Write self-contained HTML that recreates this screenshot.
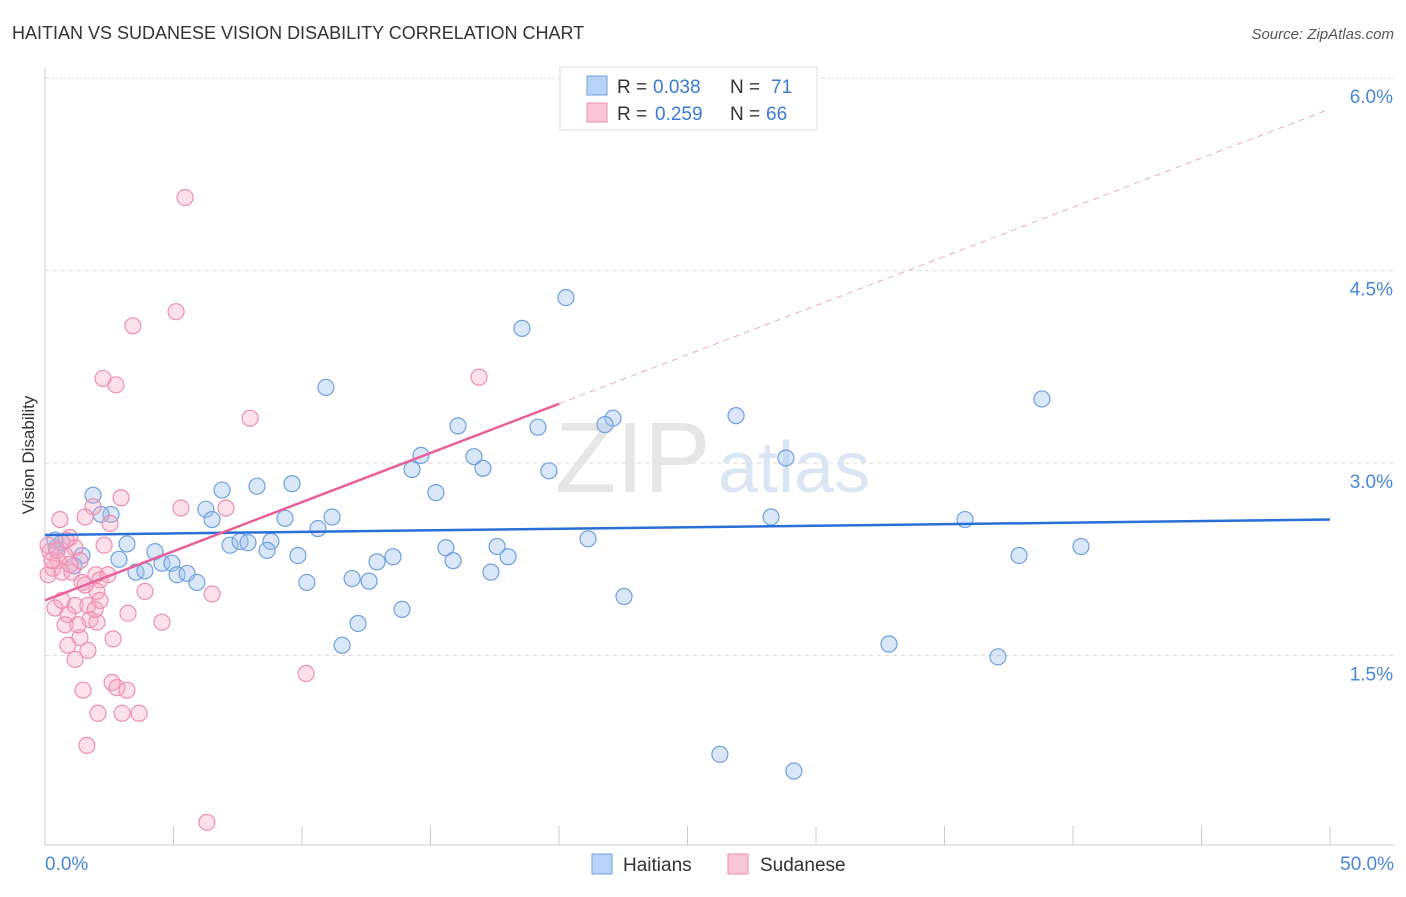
<!DOCTYPE html>
<html><head><meta charset="utf-8"><style>
body{margin:0;background:#fff;font-family:"Liberation Sans",sans-serif;}
svg text{font-family:"Liberation Sans",sans-serif;}
</style></head><body>
<svg id="chart" width="1406" height="892">
<text x="12" y="39" font-size="18" fill="#333">HAITIAN VS SUDANESE VISION DISABILITY CORRELATION CHART</text>
<text x="1394" y="39" font-size="15" fill="#555" font-style="italic" text-anchor="end">Source: ZipAtlas.com</text>
<text transform="translate(34,455) rotate(-90)" font-size="17" fill="#333" text-anchor="middle">Vision Disability</text>
<g id="grid"></g>
<text x="555" y="492" font-size="100" fill="#e6e6e6" font-family="Liberation Serif">ZIP</text>
<text x="718" y="492" font-size="72" fill="#dbe6f5">atlas</text>
<g id="points"></g>
<g id="lines"></g>
<g>
<rect x="560" y="67" width="257" height="63" fill="#fff" stroke="#ddd"/>
<rect x="587" y="76" width="20" height="19" fill="#b8d3f5" stroke="#6fa0e0"/>
<text x="617" y="93" font-size="19" fill="#333">R =</text>
<text x="653" y="93" font-size="19" fill="#3a7bd5">0.038</text>
<text x="730" y="93" font-size="19" fill="#333">N =</text>
<text x="771" y="93" font-size="19" fill="#3a7bd5">71</text>
<rect x="587" y="103" width="20" height="19" fill="#f8c6d6" stroke="#ee8fb0"/>
<text x="617" y="120" font-size="19" fill="#333">R =</text>
<text x="655" y="120" font-size="19" fill="#3a7bd5">0.259</text>
<text x="730" y="120" font-size="19" fill="#333">N =</text>
<text x="766" y="120" font-size="19" fill="#3a7bd5">66</text>
</g>
<g>
<rect x="592" y="854" width="20" height="20" fill="#b8d3f5" stroke="#6fa0e0"/>
<text x="623" y="871" font-size="19" fill="#333">Haitians</text>
<rect x="728" y="854" width="20" height="20" fill="#f8c6d6" stroke="#ee8fb0"/>
<text x="760" y="871" font-size="19" fill="#333">Sudanese</text>
</g>
<text x="45" y="870" font-size="19" fill="#4a86d8">0.0%</text>
<text x="1394" y="870" font-size="19" fill="#4a86d8" text-anchor="end">50.0%</text>
</svg>
<script>
const yTicks=[1.5,3.0,4.5,6.0];
const yTickLabels=["1.5%","3.0%","4.5%","6.0%"];
const xTicks=[0,5,10,15,20,25,30,35,40,45,50];
const haitiansX=[20.27,18.56,10.93,38.79,26.89,22.10,21.79,16.07,19.18,14.63,16.69,28.83,14.28,17.04,19.61,6.89,8.25,9.61,15.21,1.87,6.26,2.57,2.18,6.50,9.34,11.17,28.25,35.80,10.62,21.13,3.19,7.20,7.59,7.90,8.79,17.59,15.60,40.31,0.43,0.66,1.44,4.28,8.64,37.90,2.88,9.84,13.54,18.02,15.88,12.92,4.55,4.94,1.13,3.54,3.89,5.14,5.53,17.35,11.95,12.61,5.91,10.19,22.53,13.89,12.18,11.56,32.84,37.08,26.26,29.14,0.39];
const haitiansY=[4.29,4.05,3.59,3.50,3.37,3.35,3.30,3.29,3.28,3.06,3.05,3.04,2.95,2.96,2.94,2.79,2.82,2.84,2.77,2.75,2.64,2.60,2.60,2.56,2.57,2.58,2.58,2.56,2.49,2.41,2.37,2.36,2.39,2.38,2.39,2.35,2.34,2.35,2.34,2.38,2.28,2.31,2.32,2.28,2.25,2.28,2.27,2.27,2.24,2.23,2.22,2.22,2.20,2.15,2.16,2.13,2.14,2.15,2.10,2.08,2.07,2.07,1.96,1.86,1.75,1.58,1.59,1.49,0.73,0.60,2.40];
const sudaneseX=[5.45,5.10,3.42,2.26,2.76,16.89,7.98,2.96,5.29,7.04,1.87,2.53,1.56,0.58,0.97,2.30,1.17,0.19,0.78,0.51,1.36,0.31,0.66,0.12,1.05,1.98,2.14,1.44,3.89,6.50,2.02,0.39,1.17,1.67,0.89,0.78,1.75,2.02,3.23,4.55,1.36,2.65,0.89,1.67,1.17,10.16,1.48,2.61,2.80,3.19,2.06,3.00,3.66,1.63,6.30,0.12,0.27,0.47,0.97,1.95,0.66,1.56,2.14,1.28,2.45,0.82];
const sudaneseY=[5.07,4.18,4.07,3.66,3.61,3.67,3.35,2.73,2.65,2.65,2.66,2.53,2.58,2.56,2.42,2.36,2.34,2.31,2.28,2.24,2.24,2.18,2.15,2.13,2.15,2.13,2.09,2.07,2.00,1.98,2.00,1.87,1.89,1.89,1.82,1.74,1.78,1.76,1.83,1.76,1.64,1.63,1.58,1.54,1.47,1.36,1.23,1.29,1.25,1.23,1.05,1.05,1.05,0.80,0.20,2.36,2.24,2.32,2.21,1.86,1.93,2.05,1.93,1.74,2.13,2.40];
const haitiansTrend=[2.44,2.56];
const sudaneseTrend=[1.93,0.0766];

const NS="http://www.w3.org/2000/svg";
const X=v=>45+v*25.7;
const Y=v=>848-v*128.3;
function mk(tag,attrs,parent){const e=document.createElementNS(NS,tag);for(const k in attrs)e.setAttribute(k,attrs[k]);parent.appendChild(e);return e;}
const grid=document.getElementById('grid');
yTicks.forEach((t,i)=>{
  const l=mk('line',{x1:45,x2:1394,y1:Y(t),y2:Y(t),stroke:'#ddd','stroke-dasharray':'4,4'},grid);
  
  
  const tx=mk('text',{x:1393,y:Y(t)+25,'font-size':19,fill:'#4a86d8','text-anchor':'end'},grid);
  tx.textContent=yTickLabels[i];
  
  
});
const ax=mk('line',{x1:45,x2:1394,y1:845,y2:845,stroke:'#ccc'},grid);


const ay=mk('line',{x1:45,x2:45,y1:68,y2:845,stroke:'#ccc'},grid);


xTicks.forEach(t=>{
  const l=mk('line',{x1:X(t),x2:X(t),y1:826,y2:845,stroke:'#ccc'},grid);
  
  
});
const pts=document.getElementById('points');
haitiansX.forEach((v,i)=>{
  const c=mk('circle',{cx:X(v),cy:Y(haitiansY[i]),r:8,fill:'rgba(160,196,240,0.4)',stroke:'#6fa0e0','stroke-width':1.2},pts);
  
  
});
sudaneseX.forEach((v,i)=>{
  const c=mk('circle',{cx:X(v),cy:Y(sudaneseY[i]),r:8,fill:'rgba(245,170,195,0.35)',stroke:'#ee8fb0','stroke-width':1.2},pts);
  
  
});
const ln=document.getElementById('lines');
const b=mk('line',{x1:X(0),y1:Y(haitiansTrend[0]),x2:X(50),y2:Y(haitiansTrend[1]),stroke:'#2a6fd6','stroke-width':2.5},ln);


const ps=x=>sudaneseTrend[0]+sudaneseTrend[1]*x;
const p1=mk('line',{x1:X(0),y1:Y(ps(0)),x2:X(20),y2:Y(ps(20)),stroke:'#e8609a','stroke-width':2.5},ln);


const p2=mk('line',{x1:X(20),y1:Y(ps(20)),x2:X(50),y2:Y(ps(50)),stroke:'#eeaac4','stroke-width':1,'stroke-dasharray':'6,5'},ln);


</script>
</body></html>
